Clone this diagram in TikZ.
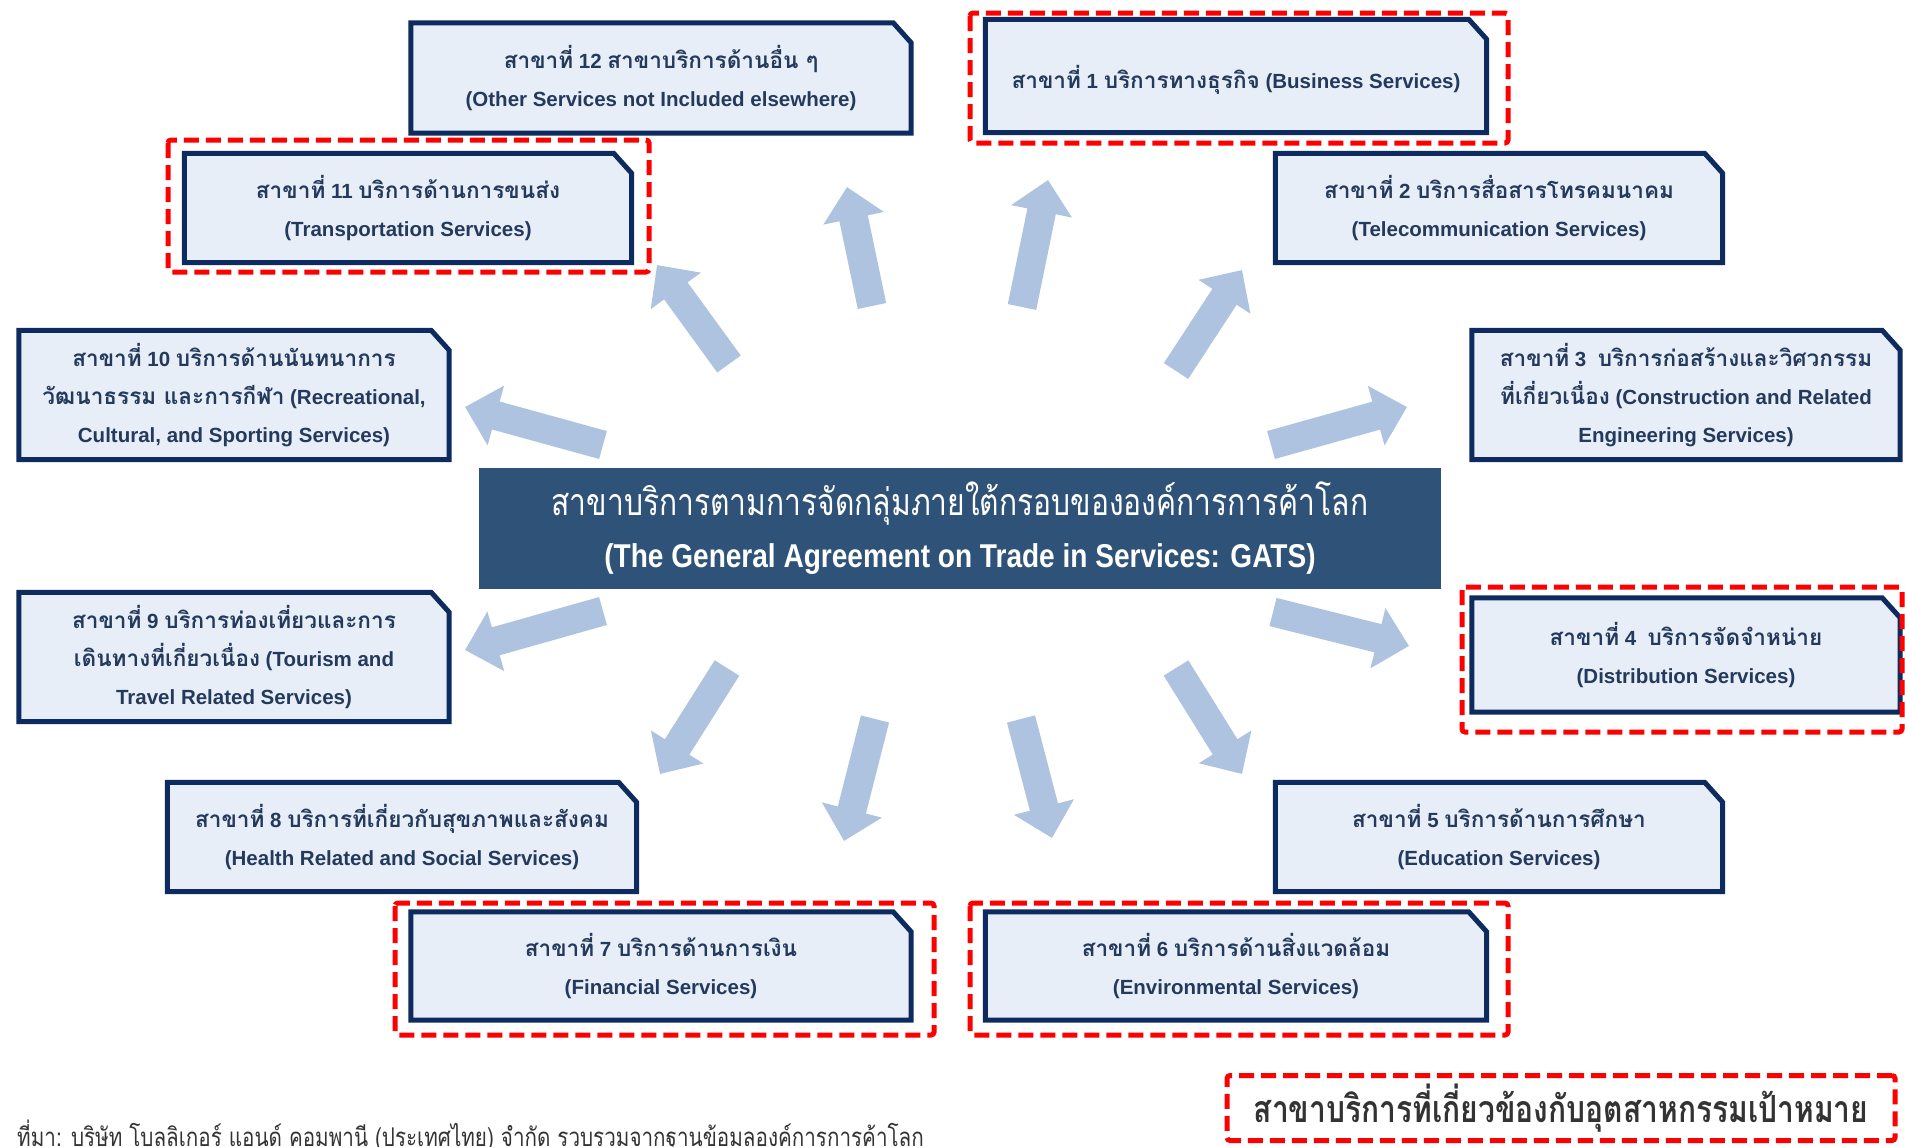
\documentclass[tikz,border=0pt]{standalone}
\usepackage{fontspec}
\setmainfont{Liberation Sans}
\newfontfamily\thaifont[Script=Thai,Scale=1.1]{Loma}
\newfontfamily\thainarrow[Script=Thai,FakeStretch=0.8]{Loma}
\newfontfamily\narrowsans[FakeStretch=0.85]{Liberation Sans}
\usetikzlibrary{arrows.meta,backgrounds}

\definecolor{boxfill}{HTML}{E8EEF7}
\definecolor{boxline}{HTML}{0D2B5E}
\definecolor{boxtext}{HTML}{233A5C}
\definecolor{gatsfill}{HTML}{2F5279}
\definecolor{arrowblue}{HTML}{ADC3E0}
\definecolor{targetred}{HTML}{FF0000}
\definecolor{legendgray}{HTML}{333333}

\newcommand\tha[1]{{\thaifont #1}}

\begin{document}
\begin{tikzpicture}[x=1pt,y=-1pt,
  svcbox/.style={align=center,inner sep=0pt,text=boxtext,
    font=\fontsize{20.5}{38}\selectfont\bfseries,
    execute at begin node={\rule{0pt}{30pt}}},
  boxshape/.style={fill=boxfill,draw=boxline,line width=5pt},
  bigarrow/.style={draw=arrowblue,line width=29pt,-{Triangle[length=32pt,width=60pt]}},
  target/.style={draw=targetred,line width=5pt,dash pattern=on 15pt off 7pt,rounded corners=3pt}]
  \useasboundingbox (0,0) rectangle (1905,1146);

  % centre
  \node[fill=gatsfill,text=white,align=center,inner sep=0pt,
    minimum width=962pt,minimum height=121pt,font=\fontsize{37.5}{52}\selectfont] (gats) at (960,528)
    {{\thainarrow สาขาบริการตามการจัดกลุ่มภายใต้กรอบขององค์การการค้าโลก}\\
     {\narrowsans\bfseries\fontsize{33}{52}\selectfont (The General Agreement on Trade in Services: GATS)}};

  % sectors
  \node[svcbox,minimum width=501pt,minimum height=113pt] (b1) at (1236,76)
    {\tha{สาขาที่} 1 \tha{บริการทางธุรกิจ} (Business Services)};
  \node[svcbox,minimum width=447pt,minimum height=109pt] (b2) at (1499,208)
    {\tha{สาขาที่} 2 \tha{บริการสื่อสารโทรคมนาคม}\\(Telecommunication Services)};
  \node[svcbox,minimum width=428pt,minimum height=129pt] (b3) at (1686,395)
    {\tha{สาขาที่} 3~ \tha{บริการก่อสร้างและวิศวกรรม}\\\tha{ที่เกี่ยวเนื่อง} (Construction and Related\\Engineering Services)};
  \node[svcbox,minimum width=428pt,minimum height=114pt] (b4) at (1686,655)
    {\tha{สาขาที่} 4~ \tha{บริการจัดจำหน่าย}\\(Distribution Services)};
  \node[svcbox,minimum width=447pt,minimum height=109pt] (b5) at (1499,837)
    {\tha{สาขาที่} 5 \tha{บริการด้านการศึกษา}\\(Education Services)};
  \node[svcbox,minimum width=501pt,minimum height=108pt] (b6) at (1236,966)
    {\tha{สาขาที่} 6 \tha{บริการด้านสิ่งแวดล้อม}\\(Environmental Services)};
  \node[svcbox,minimum width=500pt,minimum height=108pt] (b7) at (661,966)
    {\tha{สาขาที่} 7 \tha{บริการด้านการเงิน}\\(Financial Services)};
  \node[svcbox,minimum width=469pt,minimum height=109pt] (b8) at (402,837)
    {\tha{สาขาที่} 8 \tha{บริการที่เกี่ยวกับสุขภาพและสังคม}\\(Health Related and Social Services)};
  \node[svcbox,minimum width=430pt,minimum height=129pt] (b9) at (234,657)
    {\tha{สาขาที่} 9 \tha{บริการท่องเที่ยวและการ}\\\tha{เดินทางที่เกี่ยวเนื่อง} (Tourism and\\Travel Related Services)};
  \node[svcbox,minimum width=430pt,minimum height=129pt] (b10) at (234,395)
    {\tha{สาขาที่} 10 \tha{บริการด้านนันทนาการ}\\\tha{วัฒนาธรรม และการกีฬา} (Recreational,\\Cultural, and Sporting Services)};
  \node[svcbox,minimum width=447pt,minimum height=109pt] (b11) at (408,208)
    {\tha{สาขาที่} 11 \tha{บริการด้านการขนส่ง}\\(Transportation Services)};
  \node[svcbox,minimum width=500pt,minimum height=110pt] (b12) at (661,78)
    {\tha{สาขาที่} 12 \tha{สาขาบริการด้านอื่น ๆ}\\(Other Services not Included elsewhere)};

  \begin{scope}[on background layer]
    \foreach \n in {b1,b2,b3,b4,b5,b6,b7,b8,b9,b10,b11,b12}
      \filldraw[boxshape] (\n.south west) -- (\n.north west) -- ([xshift=-18pt]\n.north east)
        -- ([yshift=-20pt]\n.north east) -- (\n.south east) -- cycle;
  \end{scope}

  % arrows out of the centre
  \foreach \i/\tx/\ty/\hx/\hy in {1/1022/307/1048/180,2/1176/371/1242/270,3/1271/445/1407/407,
      4/1273/612/1409/646,5/1176/668/1242/774,6/1021/719/1052/838,7/875/719/844/841,
      8/727/668/660/774,9/603/611/465/650,10/603/445/465/407,11/729/364/657/265,12/872/306/847/187}{
    \coordinate (t\i) at (\tx,\ty);
    \coordinate (h\i) at (\hx,\hy);
    \draw[bigarrow] (t\i) -- (h\i);
  }

  % target sectors
  \draw[target] (970,13) rectangle (1508,143);
  \draw[target] (168,140) rectangle (649,272);
  \draw[target] (1462,587) rectangle (1902,732);
  \draw[target] (395,903) rectangle (934,1035);
  \draw[target] (970,903) rectangle (1508,1035);

  \node[target,minimum width=668pt,minimum height=65pt,inner sep=0pt,text=legendgray,
    font=\thainarrow\bfseries\fontsize{37.5}{40}\selectfont] (legend) at (1561,1108)
    {สาขาบริการที่เกี่ยวข้องกับอุตสาหกรรมเป้าหมาย};
  \node[anchor=base west,inner sep=0pt,text=legendgray,
    font=\thainarrow\fontsize{25.8}{28}\selectfont] (src) at (17,1146)
    {ที่มา: บริษัท โบลลิเกอร์ แอนด์ คอมพานี (ประเทศไทย) จำกัด รวบรวมจากฐานข้อมูลองค์การการค้าโลก};
\end{tikzpicture}
\end{document}
